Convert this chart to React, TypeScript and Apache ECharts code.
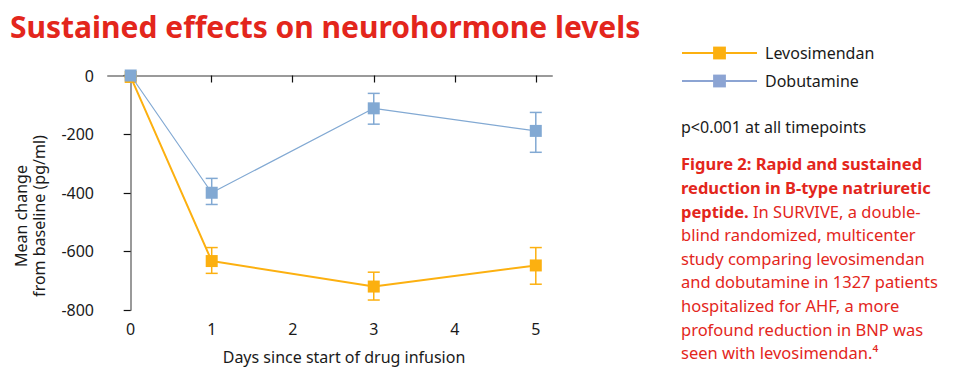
import React, { useEffect, useRef } from "react";
import * as echarts from "echarts";

const days = [0, 1, 3, 5];
const levoMean = [-5, -633, -720, -648];
const levoLow = [-5, -675, -766, -712];
const levoHigh = [-5, -587, -671, -587];
const dobuMean = [0, -400, -112, -189];
const dobuLow = [0, -440, -166, -262];
const dobuHigh = [0, -351, -61, -126];
const xTicks = [0, 1, 2, 3, 4, 5];
const yTicks = [0, -200, -400, -600, -800];

const ORANGE = "#FCB010";
const BLUE = "#82A9D3";
const RED = "#E3261C";
const FONT = "Noto Sans";

function errorSeries(name: string, low: number[], high: number[], color: string) {
  return {
    type: "custom",
    name: name + " err",
    data: days.map((d, i) => [d, low[i], high[i]]),
    encode: { x: 0, y: [1, 2] },
    z: 1,
    silent: true,
    renderItem: (params: any, api: any) => {
      const x = api.value(0);
      const lo = api.coord([x, api.value(1)]);
      const hi = api.coord([x, api.value(2)]);
      const w = 6;
      const style = { stroke: color, lineWidth: 1.5 };
      return {
        type: "group",
        children: [
          { type: "line", shape: { x1: lo[0], y1: lo[1], x2: hi[0], y2: hi[1] }, style },
          { type: "line", shape: { x1: lo[0] - w, y1: lo[1], x2: lo[0] + w, y2: lo[1] }, style },
          { type: "line", shape: { x1: hi[0] - w, y1: hi[1], x2: hi[0] + w, y2: hi[1] }, style },
        ],
      };
    },
  };
}

export default function App() {
  const ref = useRef<HTMLDivElement>(null);
  useEffect(() => {
    if (!ref.current) return;
    const chart = echarts.init(ref.current, undefined, { renderer: "svg" });
    chart.setOption({
      animation: false,
      backgroundColor: "#ffffff",
      grid: { left: 108, right: 412, top: 75.5, bottom: 79, containLabel: false },
      xAxis: {
        type: "value",
        min: -0.28,
        max: 5.2,
        axisLine: { show: true, lineStyle: { color: "#9a9a9a", width: 2 } },
        axisTick: { show: true, length: 7, customValues: xTicks, lineStyle: { color: "#111", width: 1.2 } },
        axisLabel: { customValues: xTicks, color: "#1a1a1a", fontSize: 16, fontFamily: FONT, margin: 11 },
        splitLine: { show: false },
      },
      yAxis: {
        type: "value",
        min: -800,
        max: 0,
        interval: 200,
        axisLine: { show: true, lineStyle: { color: "#9a9a9a", width: 2 } },
        axisTick: { show: true, length: 7, lineStyle: { color: "#111", width: 1.2 } },
        axisLabel: { color: "#1a1a1a", fontSize: 16, fontFamily: FONT, margin: 14 },
        splitLine: { show: false },
      },
      legend: {
        left: 681,
        top: 45,
        padding: 0,
        orient: "vertical",
        itemWidth: 75,
        itemHeight: 16,
        itemGap: 12,
        data: [
          { name: "Levosimendan", itemStyle: { color: ORANGE } },
          { name: "Dobutamine", itemStyle: { color: "#8CA4D3" }, lineStyle: { color: "#8CA4D3" } },
        ],
        textStyle: { fontSize: 16, fontFamily: FONT, color: "#1a1a1a", padding: [0, 0, 0, 3] },
      },
      graphic: [
        {
          type: "text",
          left: 10,
          top: 11,
          style: {
            text: "Sustained effects on neurohormone levels",
            fill: RED,
            font: `bold 30px ${FONT}`,
          },
        },
        {
          type: "text",
          x: 30,
          y: 216,
          rotation: Math.PI / 2,
          style: {
            text: "Mean change\nfrom baseline (pg/ml)",
            fill: "#1a1a1a",
            font: `16px ${FONT}`,
            align: "center",
            verticalAlign: "middle",
            lineHeight: 18,
          },
        },
        {
          type: "text",
          x: 344,
          y: 357,
          style: {
            text: "Days since start of drug infusion",
            fill: "#1a1a1a",
            font: `16px ${FONT}`,
            align: "center",
            verticalAlign: "middle",
          },
        },
        {
          type: "text",
          x: 681,
          y: 127,
          style: {
            text: "p<0.001 at all timepoints",
            fill: "#1a1a1a",
            font: `16px ${FONT}`,
            verticalAlign: "middle",
          },
        },
        {
          type: "text",
          x: 681,
          y: 152,
          style: {
            text:
              "{b|Figure 2: Rapid and sustained}\n{b|reduction in B-type natriuretic}\n{b|peptide.}{n| In SURVIVE, a double-}\n{n|blind randomized, multicenter}\n{n|study comparing levosimendan}\n{n|and dobutamine in 1327 patients}\n{n|hospitalized for AHF, a more}\n{n|profound reduction in BNP was}\n{n|seen with levosimendan.⁴}",
            rich: {
              b: { fill: RED, font: `bold 16.5px ${FONT}`, lineHeight: 23.6 },
              n: { fill: RED, font: `16.5px ${FONT}`, lineHeight: 23.6 },
            },
          },
        },
      ],
      series: [
        errorSeries("Levosimendan", levoLow, levoHigh, ORANGE),
        errorSeries("Dobutamine", dobuLow, dobuHigh, BLUE),
        {
          type: "line",
          name: "Levosimendan",
          data: days.map((d, i) => [d, levoMean[i]]),
          symbol: "rect",
          symbolSize: 12,
          lineStyle: { color: ORANGE, width: 2 },
          itemStyle: { color: ORANGE },
          z: 3,
        },
        {
          type: "line",
          name: "Dobutamine",
          data: days.map((d, i) => [d, dobuMean[i]]),
          symbol: "rect",
          symbolSize: 12,
          lineStyle: { color: BLUE, width: 1.2 },
          itemStyle: { color: BLUE },
          z: 4,
        },
      ],
    });
    return () => chart.dispose();
  }, []);
  return (
    <div
      ref={ref}
      style={{ position: "fixed", left: 0, top: 0, width: 964, height: 389 }}
    />
  );
}
